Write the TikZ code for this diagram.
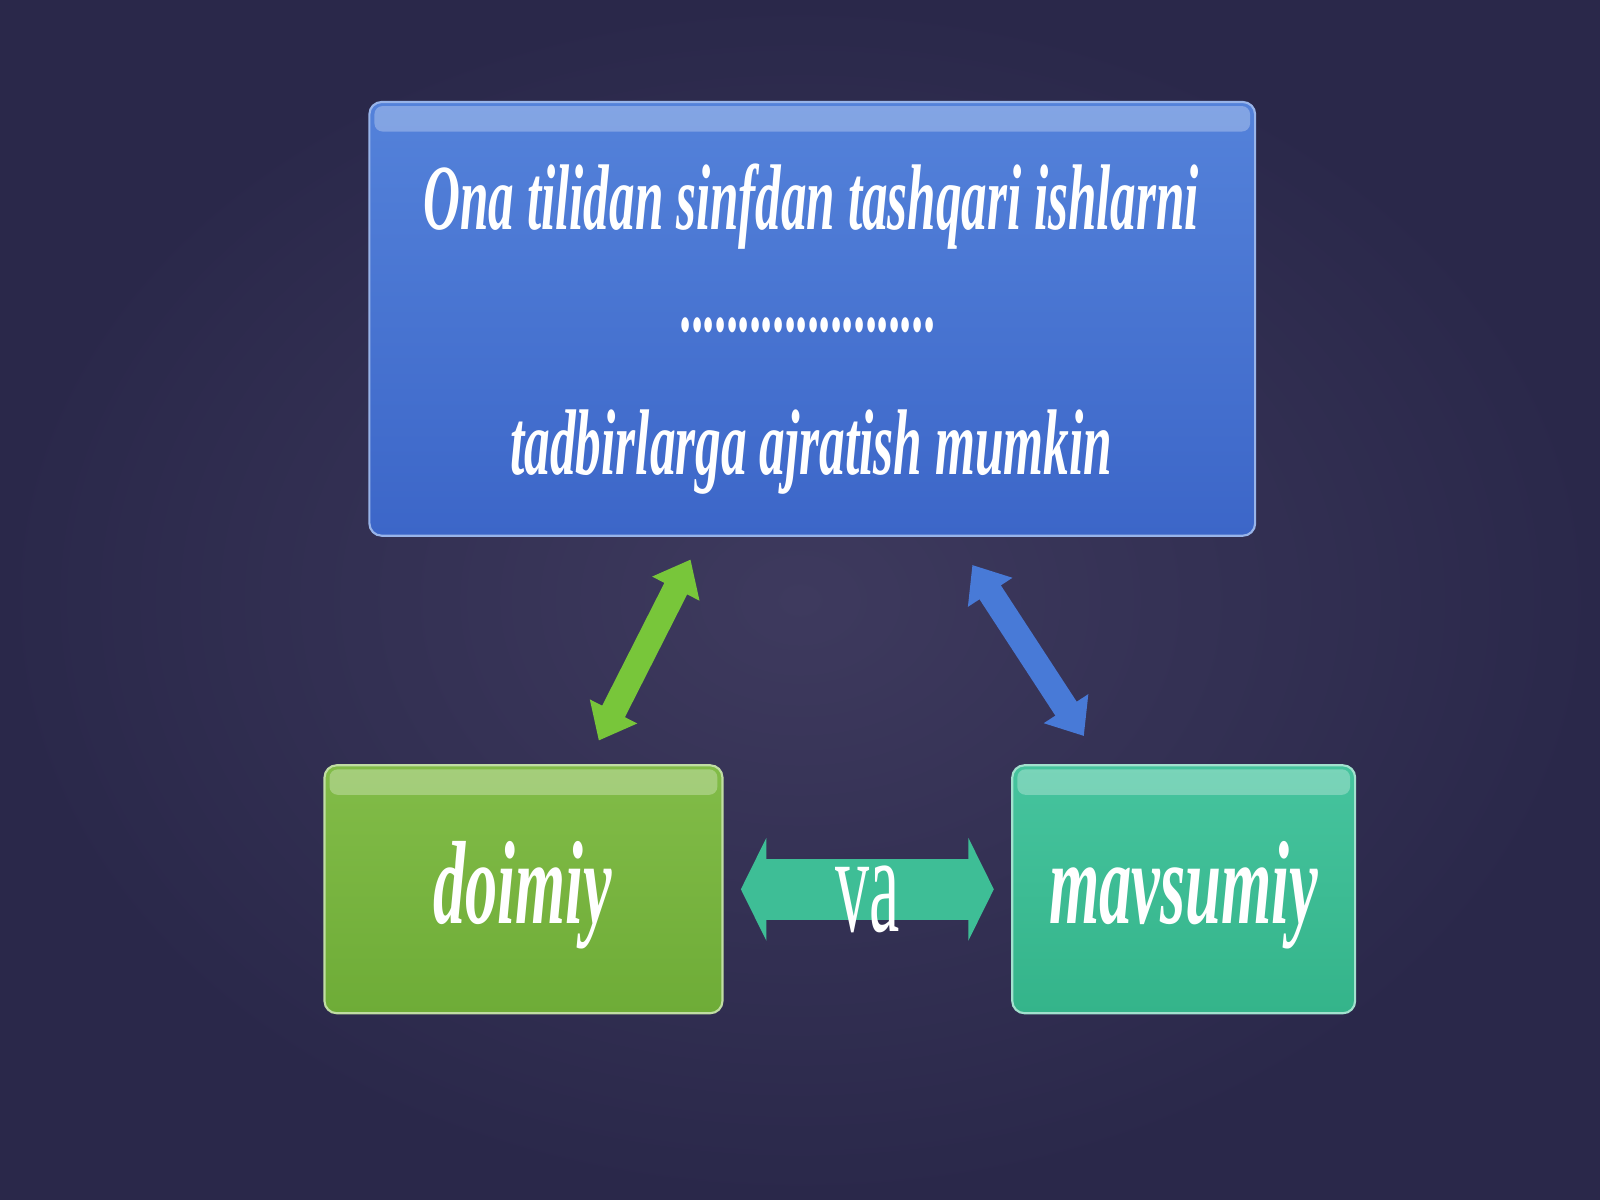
\documentclass[tikz,border=0pt]{standalone}
\usepackage{fontspec}
\setmainfont{Liberation Serif}
\usepackage{tikz}
\usetikzlibrary{arrows.meta}
\usepackage{xcolor}

\definecolor{navyA}{RGB}{62,58,94}
\definecolor{navyB}{RGB}{42,40,74}
\definecolor{blueTop}{RGB}{84,130,218}
\definecolor{blueBot}{RGB}{60,102,200}
\definecolor{greenTop}{RGB}{130,188,72}
\definecolor{greenBot}{RGB}{110,172,55}
\definecolor{tealTop}{RGB}{70,196,158}
\definecolor{tealBot}{RGB}{52,180,138}
\definecolor{greenArr}{RGB}{120,198,58}
\definecolor{blueArr}{RGB}{72,122,215}
\definecolor{tealArr}{RGB}{62,190,150}

\newcommand{\narrowtext}[2]{\resizebox{#1}{\height}{#2}}

\tikzset{
  box/.style={rounded corners=0.12cm, inner sep=0pt, line width=0.6pt},
  gloss/.style={white, opacity=0.28, rounded corners=0.08cm},
  big/.style={white, inner sep=0pt, anchor=base, font=\fontsize{26}{30}\selectfont\bfseries\itshape},
  word/.style={white, inner sep=0pt, anchor=base, font=\fontsize{33}{38}\selectfont\bfseries\itshape},
  dart/.style={line width=0.25cm, {Triangle[length=0.32cm,width=0.5cm]}-{Triangle[length=0.32cm,width=0.5cm]}},
  wide dart/.style={line width=0.6cm, {Triangle[length=0.25cm,width=1.0cm]}-{Triangle[length=0.25cm,width=1.0cm]}},
}

\begin{document}
\begin{tikzpicture}
\shade[inner color=navyA, outer color=navyB] (0,0.24) rectangle (15.68,12);
\useasboundingbox (0,0.24) rectangle (15.68,12);

% boxes
\node[box, draw=blueTop!60!white, top color=blueTop, bottom color=blueBot,
  minimum width=8.68cm, minimum height=4.25cm] (top) at (7.96,8.875) {};
\node[box, draw=greenTop!50!white, top color=greenTop, bottom color=greenBot,
  minimum width=3.9cm, minimum height=2.43cm] (doimiy) at (5.13,3.285) {};
\node[box, draw=tealTop!50!white, top color=tealTop, bottom color=tealBot,
  minimum width=3.36cm, minimum height=2.43cm] (mavsumiy) at (11.6,3.285) {};

% glossy bands
\fill[gloss] ([xshift=0.06cm,yshift=-0.05cm]top.north west) rectangle ([xshift=-0.06cm,yshift=-0.3cm]top.north east);
\fill[gloss] ([xshift=0.06cm,yshift=-0.05cm]doimiy.north west) rectangle ([xshift=-0.06cm,yshift=-0.3cm]doimiy.north east);
\fill[gloss] ([xshift=0.06cm,yshift=-0.05cm]mavsumiy.north west) rectangle ([xshift=-0.06cm,yshift=-0.3cm]mavsumiy.north east);

% texts
\node[big] (line1) at (7.95,9.75) {\narrowtext{7.6cm}{Ona tilidan sinfdan tashqari ishlarni}};
\node[big] (dots) at (7.93,8.75) {\narrowtext{2.5cm}{......................}};
\node[big] (line2) at (7.95,7.35) {\narrowtext{5.9cm}{tadbirlarga ajratish mumkin}};
\node[word] (w1) at (5.12,2.95) {\narrowtext{1.75cm}{doimiy}};
\node[word] (w2) at (11.6,2.95) {\narrowtext{2.64cm}{mavsumiy}};

% arrows
\draw[dart, greenArr, shorten <=0.25cm, shorten >=0.26cm] (top) -- (doimiy);
\draw[dart, blueArr, shorten <=0.33cm, shorten >=0.33cm] (top) -- (mavsumiy);
\draw[wide dart, tealArr, shorten <=0.17cm, shorten >=0.17cm] (doimiy) -- node[white, yshift=-0.1cm, font=\fontsize{39}{44}\selectfont] (va) {\narrowtext{0.63cm}{va}} (mavsumiy);
\end{tikzpicture}
\end{document}
